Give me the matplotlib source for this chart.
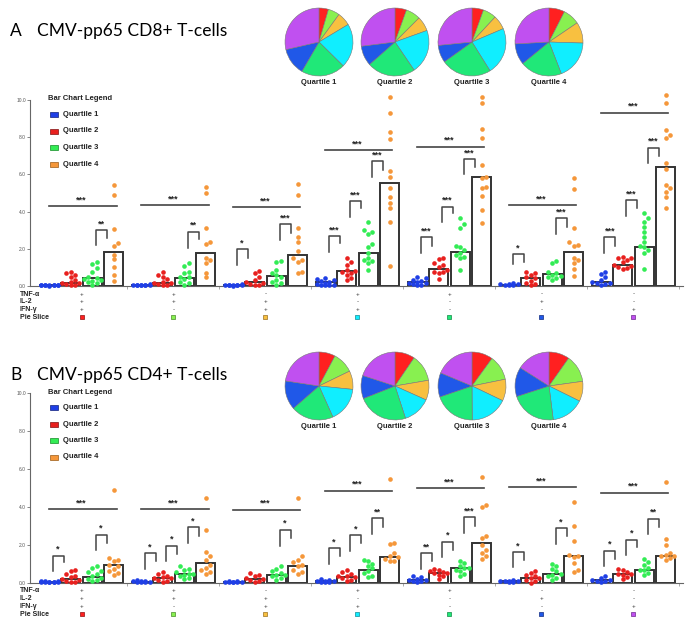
import matplotlib
matplotlib.use('Agg')
import matplotlib.pyplot as plt
import matplotlib.transforms as mtrans
from matplotlib.patches import Rectangle
import numpy as np

plt.rcParams['font.family'] = ['Liberation Sans', 'DejaVu Sans']

# ---------------- data ----------------
quartiles = ['Quartile 1', 'Quartile 2', 'Quartile 3', 'Quartile 4']
tnf = ['+', '+', '-', '+', '+', '-', '-']
il2 = ['+', '+', '+', '-', '-', '+', '-']
ifn = ['+', '-', '+', '+', '-', '-', '+']
slice_names = ['red', 'lightgreen', 'yellow', 'cyan', 'green', 'blue', 'purple']

# pie fractions (%) clockwise from 12 o'clock, same order as slice_names
cd8_pies = [[4.5, 5.5, 6.4, 21.0, 21.0, 13.0, 28.6],
            [5.5, 7.0, 7.0, 21.0, 23.0, 9.5, 27.0],
            [5.5, 6.4, 6.7, 22.5, 24.0, 8.3, 26.6],
            [7.5, 8.0, 10.0, 18.6, 20.0, 10.0, 25.9]]
cd4_pies = [[7.8, 10.0, 8.8, 16.7, 20.3, 13.8, 22.6],
            [9.5, 12.8, 9.4, 13.3, 24.0, 11.0, 20.0],
            [10.0, 11.8, 10.3, 17.8, 19.9, 11.5, 18.7],
            [9.8, 13.0, 9.5, 15.7, 22.0, 14.0, 16.0]]

# individual donors, per combination (7) per quartile (4)
cd8_q1 = [[0.02, 0.03, 0.03, 0.04, 0.05, 0.05, 0.06, 0.07, 0.08, 0.04],
          [0.03, 0.04, 0.05, 0.05, 0.06, 0.07, 0.08, 0.10, 0.04],
          [0.02, 0.03, 0.04, 0.05, 0.05, 0.06, 0.08, 0.10, 0.04],
          [0.45, 0.35, 0.30, 0.25, 0.20, 0.15, 0.10, 0.08, 0.05, 0.05, 0.03],
          [0.50, 0.41, 0.32, 0.27, 0.23, 0.18, 0.14, 0.09, 0.05, 0.05],
          [0.05, 0.06, 0.07, 0.09, 0.10, 0.12, 0.14],
          [0.77, 0.63, 0.50, 0.32, 0.23, 0.18, 0.14, 0.09, 0.05]]
cd8_q2 = [[0.77, 0.72, 0.59, 0.50, 0.32, 0.23, 0.14, 0.14, 0.09, 0.05, 0.05],
          [0.77, 0.59, 0.50, 0.36, 0.23, 0.18, 0.14, 0.09, 0.05, 0.05],
          [0.81, 0.68, 0.50, 0.32, 0.23, 0.14, 0.09, 0.05, 0.05],
          [1.49, 1.27, 1.13, 0.86, 0.81, 0.77, 0.72, 0.59, 0.41, 0.32],
          [1.49, 1.45, 1.25, 1.13, 1.04, 0.86, 0.77, 0.72, 0.36, 0.77],
          [0.77, 0.68, 0.59, 0.50, 0.41, 0.29, 0.18, 0.09, 0.05],
          [1.58, 1.52, 1.40, 1.31, 1.13, 1.04, 0.95, 0.91, 1.50, 1.10]]
cd8_q3 = [[1.31, 1.18, 0.95, 0.77, 0.50, 0.41, 0.36, 0.32, 0.29, 0.23, 0.14, 0.05],
          [1.25, 1.08, 0.77, 0.72, 0.50, 0.47, 0.36, 0.23, 0.14, 0.05],
          [1.34, 1.27, 0.86, 0.68, 0.59, 0.47, 0.32, 0.23, 0.14, 0.05],
          [3.46, 3.01, 2.92, 2.80, 2.26, 2.11, 1.76, 1.49, 1.40, 1.34, 1.25, 0.86],
          [3.67, 3.32, 3.10, 2.17, 2.08, 1.94, 1.76, 1.67, 1.58, 1.49, 0.86],
          [1.36, 1.25, 0.77, 0.68, 0.59, 0.54, 0.47, 0.41, 0.32],
          [3.91, 3.64, 3.42, 3.15, 2.89, 2.65, 2.38, 2.15, 2.11, 1.94, 1.76, 0.90]]
cd8_q4 = [[5.43, 4.88, 3.06, 2.33, 2.17, 1.67, 1.43, 1.04, 0.59, 0.27],
          [5.34, 5.02, 3.14, 2.38, 2.26, 1.49, 1.40, 1.22, 0.72, 0.47],
          [5.47, 4.87, 3.10, 2.65, 2.38, 1.88, 1.49, 1.40, 1.31, 0.77, 0.72],
          [10.14, 9.32, 8.26, 7.89, 6.20, 5.84, 5.25, 4.77, 4.48, 4.18, 3.42, 1.08],
          [10.14, 9.82, 8.44, 7.97, 6.50, 5.88, 5.82, 5.34, 5.25, 4.84, 4.09, 3.37],
          [5.79, 5.20, 3.10, 2.38, 2.20, 2.17, 1.49, 1.40, 1.22, 0.90, 0.54],
          [10.27, 9.82, 8.39, 8.12, 7.94, 6.60, 6.27, 5.43, 5.25, 5.07, 4.80, 4.21]]
cd8_bars = [[0.05, 0.18, 0.41, 1.85], [0.05, 0.15, 0.45, 1.79], [0.05, 0.20, 0.56, 1.68],
            [0.20, 0.81, 1.76, 5.56], [0.20, 0.91, 1.81, 5.86], [0.07, 0.41, 0.63, 1.81],
            [0.20, 1.13, 2.10, 6.38]]
cd8_long = [4.30, 4.35, 4.25, 7.31, 7.49, 4.35, 9.32]
# (combination, pair, top, left leg end, right leg end, label)
cd8_pairs = [(0, 2, 3.00, 2.20, 2.60, '**'), (1, 2, 2.92, 2.05, 2.55, '**'),
             (2, 0, 1.98, 1.13, 1.50, '*'), (2, 2, 3.33, 2.47, 2.85, '***'),
             (3, 0, 2.69, 1.85, 2.30, '***'), (3, 1, 4.57, 3.73, 4.18, '***'),
             (3, 2, 6.72, 5.88, 6.24, '***'), (4, 0, 2.63, 1.76, 2.17, '***'),
             (4, 1, 4.27, 3.46, 3.90, '***'), (4, 2, 6.81, 6.00, 6.38, '***'),
             (5, 0, 1.70, 1.16, 1.30, '*'), (5, 2, 3.64, 2.80, 3.19, '***'),
             (6, 0, 2.63, 1.76, 2.17, '***'), (6, 1, 4.62, 3.76, 4.18, '***'),
             (6, 2, 7.44, 6.60, 6.99, '***')]

cd4_q1 = [[0.03, 0.04, 0.05, 0.05, 0.06, 0.07, 0.08, 0.10, 0.12, 0.04],
          [0.03, 0.05, 0.06, 0.08, 0.10, 0.12, 0.15, 0.05],
          [0.03, 0.04, 0.05, 0.06, 0.07, 0.08, 0.10, 0.05],
          [0.03, 0.05, 0.08, 0.10, 0.12, 0.15, 0.20, 0.05],
          [0.39, 0.32, 0.21, 0.14, 0.09, 0.05, 0.12, 0.18],
          [0.18, 0.12, 0.09, 0.05, 0.06, 0.08, 0.10],
          [0.39, 0.26, 0.18, 0.09, 0.05, 0.12, 0.15]]
cd4_q2 = [[0.67, 0.61, 0.47, 0.39, 0.32, 0.21, 0.18, 0.12, 0.05, 0.04],
          [0.56, 0.47, 0.35, 0.26, 0.26, 0.18, 0.09, 0.05, 0.30],
          [0.53, 0.44, 0.35, 0.26, 0.18, 0.09, 0.05, 0.20],
          [0.70, 0.56, 0.47, 0.39, 0.26, 0.18, 0.09, 0.30, 0.35],
          [0.75, 0.70, 0.61, 0.53, 0.44, 0.35, 0.21, 0.53, 0.60],
          [0.61, 0.53, 0.44, 0.35, 0.26, 0.18, 0.09, 0.02, 0.25],
          [0.75, 0.67, 0.56, 0.44, 0.32, 0.21, 0.49, 0.50]]
cd4_q3 = [[0.88, 0.79, 0.61, 0.56, 0.49, 0.39, 0.26, 0.21, 0.14, 0.09],
          [0.88, 0.74, 0.67, 0.56, 0.49, 0.44, 0.35, 0.26, 0.21, 0.45],
          [0.88, 0.74, 0.61, 0.53, 0.44, 0.35, 0.26, 0.18, 0.40],
          [1.23, 1.14, 1.02, 0.88, 0.79, 0.61, 0.53, 0.39, 0.32],
          [1.14, 1.05, 0.88, 0.79, 0.70, 0.61, 0.49, 0.35, 0.80],
          [1.02, 0.88, 0.75, 0.61, 0.44, 0.35, 0.26, 0.18, 0.47],
          [1.26, 1.09, 0.96, 0.79, 0.67, 0.53, 0.44, 0.70]]
cd4_q4 = [[4.87, 1.31, 1.23, 1.14, 0.96, 0.88, 0.74, 0.61, 0.53, 0.44],
          [4.45, 2.80, 1.61, 1.44, 1.23, 0.96, 0.79, 0.70, 0.56, 0.49],
          [4.47, 1.40, 1.23, 1.09, 0.96, 0.88, 0.70, 0.56, 0.49],
          [5.46, 2.10, 2.07, 1.58, 1.44, 1.35, 1.26, 1.17, 1.14],
          [5.60, 4.12, 4.00, 2.49, 2.36, 2.01, 1.75, 1.58, 1.40, 1.26],
          [4.24, 2.98, 2.19, 1.49, 1.37, 1.05, 0.70, 0.56, 1.42],
          [5.34, 2.31, 2.01, 1.58, 1.49, 1.40, 1.31, 1.23, 1.44]]
cd4_bars = [[0.05, 0.21, 0.32, 0.95], [0.07, 0.26, 0.46, 1.03], [0.05, 0.19, 0.42, 0.91],
            [0.08, 0.30, 0.67, 1.38], [0.18, 0.53, 0.79, 2.10], [0.12, 0.25, 0.47, 1.42],
            [0.16, 0.49, 0.68, 1.44]]
cd4_long = [3.89, 3.87, 3.85, 4.85, 4.99, 5.03, 4.76]
cd4_pairs = [(0, 0, 1.44, 0.61, 1.10, '*'), (0, 2, 2.54, 1.72, 2.10, '*'),
             (1, 0, 1.56, 0.74, 1.14, '*'), (1, 1, 1.96, 1.14, 1.52, '*'),
             (1, 2, 2.94, 2.10, 2.49, '*'), (2, 2, 2.80, 1.96, 2.36, '*'),
             (3, 0, 1.84, 1.02, 1.40, '*'), (3, 1, 2.52, 1.70, 2.10, '*'),
             (3, 2, 3.40, 2.57, 2.94, '**'), (4, 0, 1.56, 0.74, 1.14, '**'),
             (4, 1, 2.17, 1.37, 1.75, '*'), (4, 2, 3.47, 2.63, 3.01, '***'),
             (5, 0, 1.61, 0.82, 1.23, '*'), (5, 2, 2.89, 2.07, 2.45, '*'),
             (6, 0, 1.70, 0.88, 1.26, '*'), (6, 1, 2.28, 1.49, 1.88, '*'),
             (6, 2, 3.38, 2.57, 2.94, '**')]

# ---------------- styles ----------------
q_colors = ['#1f3fe6', '#e8201e', '#33ec55', '#f5973a']
q_edges = ['#10207a', '#801010', '#158a25', '#9a5a15']
pie_colors = ['#ff2020', '#88f050', '#f8c040', '#10eeff', '#20e878', '#2058e8', '#c050f0']
pie_edges = ['#901010', '#4a8a2a', '#9a7020', '#108a95', '#108a45', '#102a80', '#702a90']

W, H = 685, 617
fig = plt.figure(figsize=(W / 100, H / 100), dpi=100)


def fx(px):
    return px / W


def fy(py):
    return 1 - py / H


XMIN, XMAX = -0.56, 6.54
STEP = 0.234     # distance between quartile bars in a combination
BARW = 0.205


def swarm(vals, upx_x, upx_y, d=4.3, maxw=9.5):
    # beeswarm offsets (in data units) for sorted values
    vs = sorted(vals)
    placed = []
    cands = [0.0]
    k = 1
    while k * d <= maxw:
        cands += [k * d, -k * d]
        k += 1
    offs = []
    for v in vs:
        ypx = v * upx_y
        best, bestd = 0.0, -1
        for c in cands:
            if placed:
                md = min(np.hypot(c - px, ypx - py) for px, py in placed)
            else:
                md = 99
            if md >= d:
                best = c
                break
            if md > bestd:
                best, bestd = c, md
        placed.append((best, ypx))
        offs.append(best / upx_x)
    return vs, offs


def panel(top_px, bot_px, letter, title, dots, bars, long_y, pairs, pies, pie_cy):
    ax = fig.add_axes([fx(30), fy(bot_px), fx(683) - fx(30), (bot_px - top_px) / H])
    ax.set_xlim(XMIN, XMAX)
    ax.set_ylim(0, 10)
    upx_x = (683 - 30) / (XMAX - XMIN)
    upx_y = (bot_px - top_px) / 10.0

    for g in range(7):
        for q in range(4):
            xc = g + (q - 1.5) * STEP
            ax.bar(xc, bars[g][q], width=BARW, facecolor='white', edgecolor='#333333',
                   linewidth=1.4, zorder=2)
            vs, offs = swarm(dots[q][g], upx_x, upx_y)
            ax.scatter(xc + np.array(offs), vs, s=11, color=q_colors[q], linewidths=0,
                       zorder=3, clip_on=False)
        # overall Q1 vs Q4
        ax.plot([g - 1.5 * STEP, g + 1.5 * STEP + 0.03], [long_y[g], long_y[g]],
                color='#444444', lw=1.2, zorder=4)
        ax.text(g, long_y[g] + 0.1, '***', ha='center', va='bottom', fontsize=6.5,
                color='#222222', fontweight='bold')

    hw = 5.5 / upx_x
    for g, p, yt, yl, yr, lab in pairs:
        mid = g + (p - 1) * STEP - 0.02
        ax.plot([mid - hw, mid - hw, mid + hw, mid + hw], [yl, yt, yt, yr],
                color='#444444', lw=1.1, zorder=4)
        ax.text(mid, yt + 0.1, lab, ha='center', va='bottom', fontsize=6.5,
                color='#222222', fontweight='bold')

    for s in ['top', 'right']:
        ax.spines[s].set_visible(False)
    for s in ['left', 'bottom']:
        ax.spines[s].set_color('#666666')
        ax.spines[s].set_linewidth(0.8)
    ax.set_yticks([0, 2, 4, 6, 8, 10])
    ax.set_yticklabels(['0.0', '2.0', '4.0', '6.0', '8.0', '10.0'])
    ax.tick_params(axis='y', labelsize=3.5, length=2, width=0.5, colors='#555555', pad=1)
    ax.set_xticks([g + 0.5 for g in range(7)])
    ax.set_xticklabels([])
    ax.tick_params(axis='x', length=2, width=0.5, colors='#888888')
    ax.patch.set_alpha(0)

    # combination rows under the axis
    tr = mtrans.blended_transform_factory(ax.transData, fig.transFigure)
    rows = [('TNF-\u03b1', tnf), ('IL-2', il2), ('IFN-\u03b3', ifn), ('Pie Slice', None)]
    for r, (name, signs) in enumerate(rows):
        ypx = bot_px + 8 + r * 7.7
        fig.text(fx(20), fy(ypx), name, fontsize=5, fontweight='bold', va='center',
                 color='#222222')
        for g in range(7):
            if signs is None:
                ax.scatter([g], [fy(ypx)], marker='s', s=9, color=pie_colors[g],
                           edgecolors=pie_edges[g], linewidths=0.5, transform=tr,
                           clip_on=False)
            else:
                ax.text(g, fy(ypx), signs[g], transform=tr, ha='center', va='center',
                        fontsize=4.5, color='#333333')

    # legend
    fig.text(fx(48), fy(top_px - 1), 'Bar Chart Legend', fontsize=5.5, fontweight='bold',
             va='center', color='#222222')
    for q in range(4):
        ypx = top_px + 14.5 + q * 16.5
        fig.add_artist(Rectangle((fx(50), fy(ypx + 2.5)), 8 / W, 5 / H,
                                 transform=fig.transFigure, facecolor=q_colors[q],
                                 edgecolor=q_edges[q], linewidth=0.5))
        fig.text(fx(63), fy(ypx), quartiles[q], fontsize=5.5, fontweight='bold',
                 va='center', color='#222222')

    # title
    fig.text(fx(10), fy(pie_cy - 6), letter, fontsize=12.5, family='Lato', va='baseline')
    fig.text(fx(37), fy(pie_cy - 6), title, fontsize=12.5, family='Lato', va='baseline')

    # pies
    for i, cx in enumerate([319, 395, 472, 549]):
        pax = fig.add_axes([fx(cx - 35), fy(pie_cy + 35), 70 / W, 70 / H])
        pax.pie(pies[i], colors=pie_colors, startangle=90, counterclock=False,
                wedgeprops=dict(edgecolor='#777777', linewidth=0.4))
        pax.set_xlim(-1.03, 1.03)
        pax.set_ylim(-1.03, 1.03)
        fig.text(fx(cx), fy(pie_cy + 40), quartiles[i], fontsize=5.5, fontweight='bold',
                 ha='center', va='center', color='#222222')
    return ax


panel(100, 286, 'A', 'CMV-pp65 CD8+ T-cells', [cd8_q1, cd8_q2, cd8_q3, cd8_q4],
      cd8_bars, cd8_long, cd8_pairs, cd8_pies, 42)
panel(393, 583, 'B', 'CMV-pp65 CD4+ T-cells', [cd4_q1, cd4_q2, cd4_q3, cd4_q4],
      cd4_bars, cd4_long, cd4_pairs, cd4_pies, 386)

fig.savefig('out.png', dpi=100)
